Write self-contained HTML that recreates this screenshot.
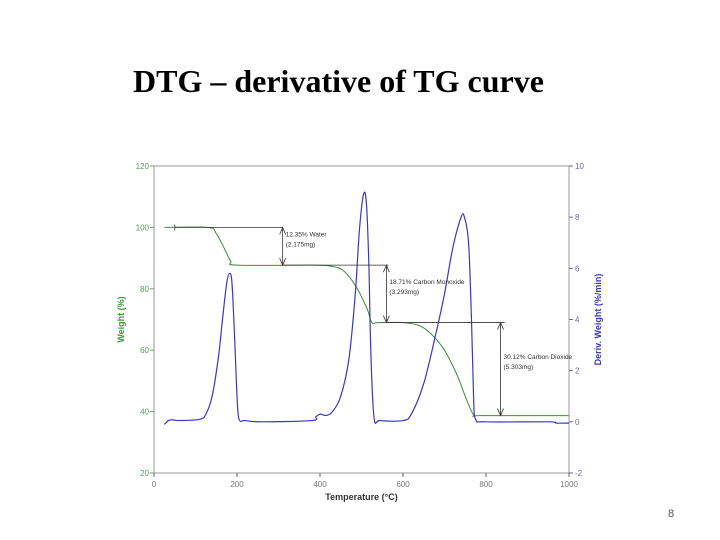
<!DOCTYPE html>
<html><head><meta charset="utf-8"><style>
html,body{margin:0;padding:0;background:#fff;}
#wrap{position:relative;width:720px;height:540px;overflow:hidden;}
#title{position:absolute;left:133px;top:63px;font:bold 32px "Liberation Serif",serif;color:#000;white-space:nowrap;}
#pg{position:absolute;left:668px;top:508px;font:11px "Liberation Sans",sans-serif;color:#555;}
svg{position:absolute;left:0;top:0;}
</style></head><body>
<div id="wrap">
<div id="title">DTG – derivative of TG curve</div>
<svg id="chart" width="720" height="540"></svg>
<div id="pg">8</div>
</div>
<script>
const xTicks=[0,200,400,600,800,1000];
const wTicks=[20,40,60,80,100,120];
const dTicks=[-2,0,2,4,6,8,10];
const tgTemp=[25,130,150,170,185,200,380,420,450,470,490,505,515,525,540,600,640,670,700,730,750,770,790,1000];
const tgWeight=[100,100,98,93,89,87.7,87.7,87.5,86.5,84,80,76,73,69,69,69,68,65,60,52,45,39,38.7,38.7];
const dtgTemp=[25,35,45,60,110,125,140,155,165,175,182,188,195,200,205,220,260,380,390,400,415,430,450,470,485,495,505,512,518,522,530,545,600,620,650,680,700,720,740,748,758,765,770,775,800,950,970,1000];
const dtgVal=[-0.1,0.05,0.08,0.05,0.1,0.3,1,2.5,4,5.4,5.8,5.4,3,1,0.1,0.05,0,0.05,0.2,0.3,0.25,0.4,1,2.5,5,7.5,8.9,8.5,6,3,0.2,0.05,0.05,0.3,1.5,3.5,5,6.8,8,8,7,4,1,0.1,0,0,-0.05,-0.05];
const steps=[{t0:50,t1:310,w:100,label:["12.35% Water","(2.175mg)"],ax:310,w2:87.7},
             {t0:310,t1:565,w:87.7,label:["18.71% Carbon Monoxide","(3.293mg)"],ax:560,w2:69},
             {t0:560,t1:845,w:69,label:["30.12% Carbon Dioxide","(5.303mg)"],ax:835,w2:38.7}];
const X0=154,X1=569,YT=166,YB=473;
const sx=t=>X0+(t-0)/1000*(X1-X0);
const sw=w=>YB-(w-20)/100*(YB-YT);
const sd=d=>YB-(d+2)/12*(YB-YT);
const svg=document.getElementById('chart');
const NS='http://www.w3.org/2000/svg';
function mk(tag,at,txt){const e=document.createElementNS(NS,tag);for(const k in at)e.setAttribute(k,at[k]);if(txt!==undefined)e.textContent=txt;svg.appendChild(e);return e;}
function smooth(pts){let d='M'+pts[0][0]+','+pts[0][1];
 for(let i=0;i<pts.length-1;i++){const p0=pts[Math.max(0,i-1)],p1=pts[i],p2=pts[i+1],p3=pts[Math.min(pts.length-1,i+2)];
  const c1=[p1[0]+(p2[0]-p0[0])/6,p1[1]+(p2[1]-p0[1])/6],c2=[p2[0]-(p3[0]-p1[0])/6,p2[1]-(p3[1]-p1[1])/6];
  d+=`C${c1[0]},${c1[1]} ${c2[0]},${c2[1]} ${p2[0]},${p2[1]}`;}
 return d;}
let e=mk('rect',{x:X0,y:YT,width:X1-X0,height:YB-YT,fill:'none',stroke:'#9a9a9a','stroke-width':1});

xTicks.forEach(t=>{mk('line',{x1:sx(t),x2:sx(t),y1:YB,y2:YB+4,stroke:'#666'});
 e=mk('text',{x:sx(t),y:YB+14,'text-anchor':'middle','font-size':8,'font-family':'Liberation Sans',fill:'#777'},t);
 });
wTicks.forEach(w=>{mk('line',{x1:X0-4,x2:X0,y1:sw(w),y2:sw(w),stroke:'#6a6'});
 e=mk('text',{x:X0-5,y:sw(w)+3,'text-anchor':'end','font-size':8,'font-family':'Liberation Sans',fill:'#5a9a5a'},w);
 });
dTicks.forEach(d=>{mk('line',{x1:X1,x2:X1+4,y1:sd(d),y2:sd(d),stroke:'#66a'});
 e=mk('text',{x:X1+6,y:sd(d)+3,'font-size':8,'font-family':'Liberation Sans',fill:'#6a6aaa'},d);
 });
e=mk('text',{x:(X0+X1)/2,y:500,'text-anchor':'middle','font-size':9,'font-weight':'bold','font-family':'Liberation Sans',fill:'#333'},'Temperature (°C)');

e=mk('text',{x:124,y:(YT+YB)/2,'text-anchor':'middle','font-size':9,'font-weight':'bold','font-family':'Liberation Sans',fill:'#3a9a3a',transform:`rotate(-90 124 ${(YT+YB)/2})`},'Weight (%)');

e=mk('text',{x:601,y:(YT+YB)/2,'text-anchor':'middle','font-size':9,'font-weight':'bold','font-family':'Liberation Sans',fill:'#3a3aaa',transform:`rotate(-90 601 ${(YT+YB)/2})`},'Deriv. Weight (%/min)');

e=mk('path',{d:smooth(tgTemp.map((t,i)=>[sx(t),sw(tgWeight[i])])),fill:'none',stroke:'#3c8c3c','stroke-width':1});

e=mk('path',{d:smooth(dtgTemp.map((t,i)=>[sx(t),sd(dtgVal[i])])),fill:'none',stroke:'#3838c0','stroke-width':1.2});

steps.forEach(s=>{
 mk('line',{x1:sx(s.t0),x2:sx(s.t1),y1:sw(s.w),y2:sw(s.w),stroke:'#333','stroke-width':0.8});
 const ax=sx(s.ax),ya=sw(s.w),yb=sw(s.w2);
 e=mk('line',{x1:ax,x2:ax,y1:ya,y2:yb,stroke:'#333','stroke-width':0.8});
 
 mk('path',{d:`M${ax-3},${ya+7}L${ax},${ya}L${ax+3},${ya+7}M${ax-3},${yb-7}L${ax},${yb}L${ax+3},${yb-7}`,fill:'none',stroke:'#333','stroke-width':0.8});
 s.label.forEach((l,i)=>{e=mk('text',{x:ax+3,y:(ya+yb)/2-10+i*10,'font-size':6.5,'font-family':'Liberation Sans',fill:'#333'},l);
  });
});
mk('line',{x1:sx(50),x2:sx(50),y1:sw(100)-3,y2:sw(100)+3,stroke:'#333','stroke-width':0.8});
</script>
</body></html>
